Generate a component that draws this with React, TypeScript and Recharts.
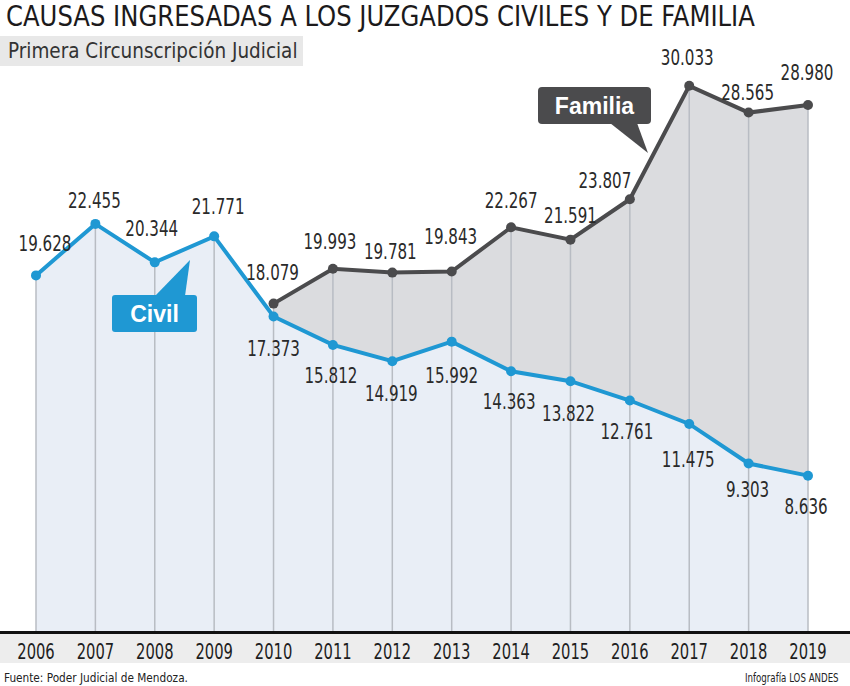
import React from 'react';
import {
  ComposedChart, Area, Line, XAxis, YAxis, ReferenceLine, LabelList,
} from 'recharts';

const years = [2006, 2007, 2008, 2009, 2010, 2011, 2012, 2013, 2014, 2015, 2016, 2017, 2018, 2019];
const civil = [19628, 22455, 20344, 21771, 17373, 15812, 14919, 15992, 14363, 13822, 12761, 11475, 9303, 8636];
const familia = [null, null, null, null, 18079, 19993, 19781, 19843, 22267, 21591, 23807, 30033, 28565, 28980];

// label offsets (centre of text relative to the point)
const civilOffsets = [
  [9, -32], [-1, -23], [-3, -34], [4, -30], [0, 32], [-2, 31], [-1, 32],
  [0, 34], [-2, 30], [-2, 32], [-3, 31], [-1, 36], [-1, 26], [-2, 31],
];
const familiaOffsets = [
  [0, 0], [0, 0], [0, 0], [0, 0], [-1, -31], [-3, -27], [-2, -21],
  [-1, -35], [0, -27], [0, -24], [-25, -19], [-2, -28], [-1, -20], [-1, -33],
];

const data = years.map((year, i) => ({ year, civil: civil[i], familia: familia[i] }));

const FONT = "'DejaVu Sans Condensed', 'DejaVu Sans', sans-serif";
const BOLD = "'Liberation Sans', Arial, sans-serif";
const BLUE = '#1f98d3';
const DARK = '#4b4b4d';

const fmt = (v: number) => v.toLocaleString('de-DE');

const makeLabel = (offsets: number[][]) => (props: any) => {
  const { x, y, value, index } = props;
  if (value == null) return null;
  const [dx, dy] = offsets[index];
  return (
    <text
      transform={`translate(${x + dx},${y + dy + 7.5}) scale(0.8,1)`}
      textAnchor="middle"
      fontFamily={FONT}
      fontSize={21}
      fill="#2a2a2a"
    >
      {fmt(value)}
    </text>
  );
};

const YearTick = ({ x, y, payload }: any) => (
  <text
    transform={`translate(${x},${y + 24}) scale(0.78,1)`}
    textAnchor="middle"
    fontFamily={FONT}
    fontSize={21}
    fill="#1e1e1e"
  >
    {payload.value}
  </text>
);

const squeeze = (sx: number): React.CSSProperties => ({ transform: `scaleX(${sx})`, transformOrigin: 'left top' });

export default function App() {
  return (
    <div style={{ position: 'absolute', left: 0, top: 0, width: 850, height: 686, background: '#fff', overflow: 'hidden' }}>
      <div style={{ position: 'absolute', left: 6, top: 0, fontFamily: FONT, fontSize: 28, color: '#1c1a1b', whiteSpace: 'nowrap', lineHeight: '34px', ...squeeze(0.965) }}>
        CAUSAS INGRESADAS A LOS JUZGADOS CIVILES Y DE FAMILIA
      </div>
      <div style={{ position: 'absolute', left: 0, top: 36, width: 303, height: 30, background: '#e8e8e8' }} />
      <div style={{ position: 'absolute', left: 8, top: 37, fontFamily: FONT, fontSize: 22, color: '#333', lineHeight: '28px', whiteSpace: 'nowrap', ...squeeze(0.93) }}>
        Primera Circunscripción Judicial
      </div>
      <div style={{ position: 'absolute', left: 0, top: 634, width: 850, height: 29, background: '#ededed' }} />

      <div style={{ position: 'absolute', left: 0, top: 0 }}>
        <ComposedChart width={850} height={686} data={data} margin={{ top: 50, right: 42, left: 36, bottom: 23 }}>
          <XAxis
            dataKey="year"
            type="number"
            domain={[2006, 2019]}
            ticks={years}
            axisLine={false}
            tickLine={false}
            tickSize={0}
            height={30}
            tick={<YearTick />}
            interval={0}
          />
          <YAxis hide domain={[0, 32000]} />
          <Area dataKey="familia" type="linear" stroke="none" fill="#dbdcdf" fillOpacity={1} isAnimationActive={false} />
          <Area dataKey="civil" type="linear" stroke="none" fill="#e9eef6" fillOpacity={1} isAnimationActive={false} />
          {years.map((year, i) => (
            <ReferenceLine
              key={year}
              segment={[{ x: year, y: 0 }, { x: year, y: Math.max(civil[i], familia[i] ?? 0) }]}
              stroke="#b8bcc3"
              strokeWidth={1.5}
            />
          ))}
          <Line
            dataKey="familia"
            type="linear"
            stroke={DARK}
            strokeWidth={4}
            dot={{ r: 5, fill: DARK, stroke: 'none' }}
            isAnimationActive={false}
          >
            <LabelList dataKey="familia" content={makeLabel(familiaOffsets)} />
          </Line>
          <Line
            dataKey="civil"
            type="linear"
            stroke={BLUE}
            strokeWidth={4}
            dot={{ r: 5, fill: BLUE, stroke: 'none' }}
            isAnimationActive={false}
          >
            <LabelList dataKey="civil" content={makeLabel(civilOffsets)} />
          </Line>
        </ComposedChart>
      </div>

      <svg width={850} height={686} style={{ position: 'absolute', left: 0, top: 0, pointerEvents: 'none' }}>
        <rect x={112} y={295} width={85} height={37} rx={3} fill={BLUE} />
        <polygon points="155,296 190,260 185,296" fill={BLUE} />
        <text x={154.5} y={322} textAnchor="middle" fontFamily={BOLD} fontWeight="bold" fontSize={23} fill="#fff">Civil</text>
        <rect x={538} y={87} width={113} height={37} rx={4} fill={DARK} />
        <polygon points="610,123 648,153 637,123" fill={DARK} />
        <text x={594.5} y={114} textAnchor="middle" fontFamily={BOLD} fontWeight="bold" fontSize={23} fill="#fff">Familia</text>
        <rect x={0} y={631} width={850} height={3} fill="#111" />
      </svg>

      <div style={{ position: 'absolute', left: 4, top: 670, fontFamily: FONT, fontSize: 13, color: '#222', whiteSpace: 'nowrap', ...squeeze(0.9) }}>
        Fuente: Poder Judicial de Mendoza.
      </div>
      <div style={{ position: 'absolute', left: 745, top: 671, fontFamily: FONT, fontSize: 12, color: '#222', whiteSpace: 'nowrap', ...squeeze(0.8) }}>
        Infografía LOS ANDES
      </div>
    </div>
  );
}
